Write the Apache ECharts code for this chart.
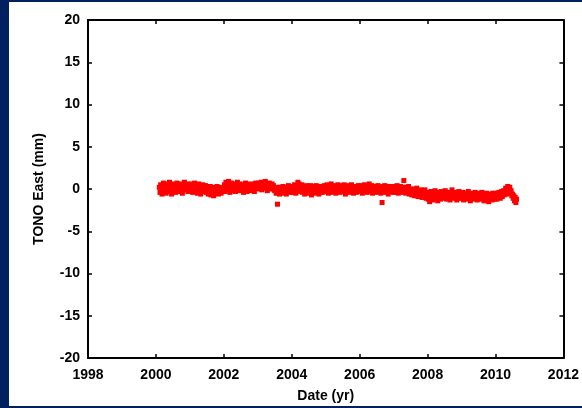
<!DOCTYPE html>
<html>
<head>
<meta charset="utf-8">
<script src="https://cdn.jsdelivr.net/npm/echarts@6/dist/echarts.min.js"></script>
<style>
  html, body { margin: 0; padding: 0; background: #002060; }
  #chart { width: 582px; height: 408px; }
</style>
</head>
<body>
<div id="chart"></div>
<script>
// TONO GPS station, east component time series (decimal year, mm)
const years = [
  2000.10, 2000.12, 2000.14, 2000.16, 2000.18, 2000.20, 2000.22, 2000.24, 2000.26, 2000.28, 2000.30, 2000.32, 2000.34, 2000.36, 2000.38,
  2000.40, 2000.42, 2000.44, 2000.46, 2000.48, 2000.50, 2000.52, 2000.54, 2000.56, 2000.58, 2000.60, 2000.62, 2000.64, 2000.66, 2000.68,
  2000.70, 2000.72, 2000.74, 2000.76, 2000.78, 2000.80, 2000.82, 2000.84, 2000.86, 2000.88, 2000.90, 2000.92, 2000.94, 2000.96, 2000.98,
  2001.00, 2001.02, 2001.04, 2001.06, 2001.08, 2001.10, 2001.12, 2001.14, 2001.16, 2001.18, 2001.20, 2001.22, 2001.24, 2001.26, 2001.28,
  2001.30, 2001.32, 2001.34, 2001.36, 2001.38, 2001.40, 2001.42, 2001.44, 2001.46, 2001.48, 2001.50, 2001.52, 2001.54, 2001.56, 2001.58,
  2001.60, 2001.62, 2001.64, 2001.66, 2001.68, 2001.70, 2001.72, 2001.74, 2001.76, 2001.78, 2001.80, 2001.82, 2001.84, 2001.86, 2001.88,
  2001.90, 2001.92, 2001.94, 2001.96, 2001.98,
  2002.00, 2002.02, 2002.04, 2002.06, 2002.08, 2002.10, 2002.12, 2002.14, 2002.16, 2002.18, 2002.20, 2002.22, 2002.24, 2002.26, 2002.28,
  2002.30, 2002.32, 2002.34, 2002.36, 2002.38, 2002.40, 2002.42, 2002.44, 2002.46, 2002.48, 2002.50, 2002.52, 2002.54, 2002.56, 2002.58,
  2002.60, 2002.62, 2002.64, 2002.66, 2002.68, 2002.70, 2002.72, 2002.74, 2002.76, 2002.78, 2002.80, 2002.82, 2002.84, 2002.86, 2002.88,
  2002.90, 2002.92, 2002.94, 2002.96, 2002.98,
  2003.00, 2003.02, 2003.04, 2003.06, 2003.08, 2003.10, 2003.12, 2003.14, 2003.16, 2003.18, 2003.20, 2003.22, 2003.24, 2003.26, 2003.28,
  2003.30, 2003.32, 2003.34, 2003.36, 2003.38, 2003.40, 2003.42, 2003.44, 2003.46, 2003.48, 2003.50, 2003.52, 2003.54, 2003.56, 2003.58,
  2003.60, 2003.62, 2003.64, 2003.66, 2003.68, 2003.70, 2003.72, 2003.74, 2003.76, 2003.78, 2003.80, 2003.82, 2003.84, 2003.86, 2003.88,
  2003.90, 2003.92, 2003.94, 2003.96, 2003.98,
  2004.00, 2004.02, 2004.04, 2004.06, 2004.08, 2004.10, 2004.12, 2004.14, 2004.16, 2004.18, 2004.20, 2004.22, 2004.24, 2004.26, 2004.28,
  2004.30, 2004.32, 2004.34, 2004.36, 2004.38, 2004.40, 2004.42, 2004.44, 2004.46, 2004.48, 2004.50, 2004.52, 2004.54, 2004.56, 2004.58,
  2004.60, 2004.62, 2004.64, 2004.66, 2004.68, 2004.70, 2004.72, 2004.74, 2004.76, 2004.78, 2004.80, 2004.82, 2004.84, 2004.86, 2004.88,
  2004.90, 2004.92, 2004.94, 2004.96, 2004.98,
  2005.00, 2005.02, 2005.04, 2005.06, 2005.08, 2005.10, 2005.12, 2005.14, 2005.16, 2005.18, 2005.20, 2005.22, 2005.24, 2005.26, 2005.28,
  2005.30, 2005.32, 2005.34, 2005.36, 2005.38, 2005.40, 2005.42, 2005.44, 2005.46, 2005.48, 2005.50, 2005.52, 2005.54, 2005.56, 2005.58,
  2005.60, 2005.62, 2005.64, 2005.66, 2005.68, 2005.70, 2005.72, 2005.74, 2005.76, 2005.78, 2005.80, 2005.82, 2005.84, 2005.86, 2005.88,
  2005.90, 2005.92, 2005.94, 2005.96, 2005.98,
  2006.00, 2006.02, 2006.04, 2006.06, 2006.08, 2006.10, 2006.12, 2006.14, 2006.16, 2006.18, 2006.20, 2006.22, 2006.24, 2006.26, 2006.28,
  2006.30, 2006.32, 2006.34, 2006.36, 2006.38, 2006.40, 2006.42, 2006.44, 2006.46, 2006.48, 2006.50, 2006.52, 2006.54, 2006.56, 2006.58,
  2006.60, 2006.62, 2006.64, 2006.66, 2006.68, 2006.70, 2006.72, 2006.74, 2006.76, 2006.78, 2006.80, 2006.82, 2006.84, 2006.86, 2006.88,
  2006.90, 2006.92, 2006.94, 2006.96, 2006.98,
  2007.00, 2007.02, 2007.04, 2007.06, 2007.08, 2007.10, 2007.12, 2007.14, 2007.16, 2007.18, 2007.20, 2007.22, 2007.24, 2007.26, 2007.28,
  2007.30, 2007.32, 2007.34, 2007.36, 2007.38, 2007.40, 2007.42, 2007.44, 2007.46, 2007.48, 2007.50, 2007.52, 2007.54, 2007.56, 2007.58,
  2007.60, 2007.62, 2007.64, 2007.66, 2007.68, 2007.70, 2007.72, 2007.74, 2007.76, 2007.78, 2007.80, 2007.82, 2007.84, 2007.86, 2007.88,
  2007.90, 2007.92, 2007.94, 2007.96, 2007.98,
  2008.00, 2008.02, 2008.04, 2008.06, 2008.08, 2008.10, 2008.12, 2008.14, 2008.16, 2008.18, 2008.20, 2008.22, 2008.24, 2008.26, 2008.28,
  2008.30, 2008.32, 2008.34, 2008.36, 2008.38, 2008.40, 2008.42, 2008.44, 2008.46, 2008.48, 2008.50, 2008.52, 2008.54, 2008.56, 2008.58,
  2008.60, 2008.62, 2008.64, 2008.66, 2008.68, 2008.70, 2008.72, 2008.74, 2008.76, 2008.78, 2008.80, 2008.82, 2008.84, 2008.86, 2008.88,
  2008.90, 2008.92, 2008.94, 2008.96, 2008.98,
  2009.00, 2009.02, 2009.04, 2009.06, 2009.08, 2009.10, 2009.12, 2009.14, 2009.16, 2009.18, 2009.20, 2009.22, 2009.24, 2009.26, 2009.28,
  2009.30, 2009.32, 2009.34, 2009.36, 2009.38, 2009.40, 2009.42, 2009.44, 2009.46, 2009.48, 2009.50, 2009.52, 2009.54, 2009.56, 2009.58,
  2009.60, 2009.62, 2009.64, 2009.66, 2009.68, 2009.70, 2009.72, 2009.74, 2009.76, 2009.78, 2009.80, 2009.82, 2009.84, 2009.86, 2009.88,
  2009.90, 2009.92, 2009.94, 2009.96, 2009.98,
  2010.00, 2010.02, 2010.04, 2010.06, 2010.08, 2010.10, 2010.12, 2010.14, 2010.16, 2010.18, 2010.20, 2010.22, 2010.24, 2010.26, 2010.28,
  2010.30, 2010.32, 2010.34, 2010.36, 2010.38, 2010.40, 2010.42, 2010.44, 2010.46, 2010.48, 2010.50, 2010.52, 2010.54, 2010.56, 2010.58,
  2010.60, 2010.62
];

const east = [
  // 2000
  0.2, -0.4, 0.5, 0.0, -0.6, 0.3, 0.7, -0.2, 0.1, 0.4, -0.5, 0.6, 0.0, -0.3, 0.3,
  0.8, -0.1, 0.2, -0.6, 0.5, 0.1, -0.2, 0.6, 0.3, -0.4, 0.0, 0.7, 0.2, -0.3, 0.4,
  0.1, 0.6, -0.2, 0.3, -0.5, 0.5, 0.2, 0.8, -0.1, 0.4, 0.0, 0.6, -0.3, 0.2, 0.5,
  // 2001
  0.3, -0.2, 0.6, 0.1, -0.4, 0.5, 0.0, 0.7, -0.3, 0.2, 0.4, -0.5, 0.1, 0.6, -0.1,
  0.3, -0.6, 0.2, 0.0, 0.5, -0.3, 0.1, -0.1, 0.4, -0.4, -0.2, 0.2, -0.6, 0.0, -0.4,
  0.3, -0.7, -0.1, -0.3, 0.2, -0.8, -0.2, 0.1, -0.5, -0.1, 0.3, -0.4, -0.6, 0.0, -0.2,
  0.2, -0.5, -0.1, -0.3, 0.1,
  // 2002
  0.0, 0.5, -0.3, 0.8, 0.2, 0.6, -0.1, 0.9, 0.3, -0.4, 0.4, 0.7, 0.0, 0.5, -0.2,
  0.3, 0.6, -0.3, 0.1, 0.4, 0.8, 0.0, 0.3, -0.2, 0.6, 0.2, -0.1, 0.5, 0.1, -0.4,
  0.4, 0.0, 0.7, 0.2, -0.3, 0.3, 0.6, -0.1, 0.1, 0.5, -0.2, 0.4, 0.0, 0.6, 0.2,
  -0.3, 0.3, 0.7, 0.1, 0.4,
  // 2003
  0.3, 0.7, 0.0, 0.5, 0.2, 0.8, -0.1, 0.4, 0.6, 0.1, 0.5, 0.9, 0.2, 0.4, -0.2,
  0.6, 0.3, 0.7, 0.0, 0.5, 0.2, 0.6, 0.1, 0.4, -0.1, -0.2, 0.1, -0.5, 0.2, -1.8,
  -0.3, 0.0, -0.6, 0.2, -0.2, 0.1, -0.5, 0.3, -0.1, -0.4, 0.2, 0.0, -0.6, 0.1, -0.3,
  0.4, -0.2, 0.0, -0.4, 0.2,
  // 2004
  0.1, -0.4, 0.3, -0.2, 0.5, 0.0, -0.5, 0.4, 0.2, 0.8, -0.1, 0.6, 0.3, -0.3, 0.1,
  0.5, -0.4, 0.0, 0.3, -0.6, 0.2, -0.1, 0.4, -0.3, 0.0, -0.5, 0.2, -0.2, 0.4, -0.7,
  0.0, -0.3, 0.3, -0.1, -0.5, 0.1, 0.4, -0.4, -0.1, 0.2, -0.6, 0.0, 0.3, -0.2, 0.1,
  -0.4, 0.2, -0.3, 0.4, 0.0,
  // 2005
  0.2, -0.3, 0.5, 0.0, -0.5, 0.3, 0.1, -0.2, 0.6, 0.0, -0.4, 0.3, -0.1, 0.4, 0.1,
  -0.5, 0.2, -0.2, 0.5, -0.1, 0.3, -0.4, 0.0, 0.4, -0.2, 0.1, -0.3, 0.5, 0.0, -0.6,
  0.2, -0.1, 0.4, -0.3, 0.1, 0.3, -0.4, 0.0, 0.5, -0.2, 0.2, -0.5, 0.1, 0.3, -0.1,
  -0.4, 0.2, 0.0, 0.4, -0.3,
  // 2006
  0.1, -0.3, 0.4, 0.0, -0.5, 0.3, -0.1, 0.5, 0.1, -0.2, 0.3, -0.4, 0.2, 0.0, 0.6,
  -0.3, 0.1, -0.1, 0.4, -0.5, 0.2, 0.0, -0.2, 0.3, -0.4, 0.1, -0.1, 0.4, -0.3, 0.0,
  0.2, -0.5, 0.1, -1.6, 0.3, -0.2, 0.0, 0.4, -0.4, 0.1, -0.1, 0.3, -0.6, 0.0, 0.2,
  -0.3, 0.1, -0.2, 0.3, -0.4,
  // 2007
  -0.1, 0.3, -0.4, 0.1, -0.2, 0.4, 0.0, -0.5, 0.2, -0.1, 0.3, -0.3, 0.0, 0.2, -0.4,
  1.0, -0.2, 0.1, -0.5, 0.2, -0.1, -0.3, 0.3, -0.6, 0.0, -0.4, -0.1, -0.7, -0.2, -0.5,
  0.0, -0.8, -0.3, -0.6, 0.1, -0.4, -0.9, -0.2, -0.5, -0.7, -0.1, -0.6, -1.0, -0.3, -0.8,
  -0.4, -0.1, -0.7, -1.1, -0.5,
  // 2008
  -0.6, -1.2, -0.4, -1.5, -0.8, -0.3, -1.0, -0.7, -1.3, -0.5, -0.9, -0.2, -1.1, -0.6, -0.8,
  -1.4, -0.4, -0.9, -0.7, -1.2, -0.3, -0.8, -1.0, -0.5, -1.1, -0.7, -0.2, -0.9, -1.2, -0.6,
  -0.4, -1.0, -0.8, -1.3, -0.5, -0.7, -0.1, -0.9, -1.1, -0.6, -0.4, -1.0, -0.7, -1.3, -0.5,
  -0.8, -0.3, -1.1, -0.6, -0.9,
  // 2009
  -0.7, -1.1, -0.4, -1.3, -0.8, -0.5, -1.0, -0.6, -1.2, -0.9, -0.3, -1.0, -0.7, -1.4, -0.5,
  -0.9, -1.1, -0.6, -0.8, -1.2, -0.4, -1.0, -0.7, -1.3, -0.6, -0.9, -0.5, -1.2, -0.8, -1.0,
  -0.4, -1.1, -0.7, -1.4, -0.6, -0.9, -1.2, -0.5, -1.0, -0.8, -1.5, -0.6, -1.1, -0.7, -0.9,
  -1.3, -0.5, -1.0, -0.8, -1.2,
  // 2010
  -0.9, -0.5, -1.2, -0.7, -1.0, -0.4, -0.8, -1.1, -0.6, -0.3, -0.9, -0.5, -0.2, -0.7, -0.4,
  0.1, -0.3, -0.6, 0.3, -0.1, -0.4, 0.2, -0.5, -0.2, -0.8, -0.6, -1.1, -0.8, -1.4, -1.0,
  -1.6, -1.2
];

const xTicks = { min: 1998, max: 2012, interval: 2 };
const yTicks = { min: -20, max: 20, interval: 5 };

const font = 'Liberation Sans, Arial, Helvetica, sans-serif';
const points = years.map((t, i) => [t, east[i]]);

const axisLine = { show: true, onZero: false, lineStyle: { color: '#000', width: 2 } };
const tickIn = { show: true, inside: true, length: 4, lineStyle: { color: '#000', width: 1.5 } };
const labelStyle = { color: '#000', fontFamily: font, fontWeight: 'bold', fontSize: 14 };
const plain = v => String(v);

const chart = echarts.init(document.getElementById('chart'), null, { renderer: 'canvas' });
chart.setOption({
  backgroundColor: '#002060',
  animation: false,
  graphic: [{
    type: 'rect', left: 9, top: 2, z: -10,
    shape: { width: 573, height: 404 },
    style: { fill: '#fff' }
  }],
  grid: { left: 88, right: 17, top: 20, bottom: 47, containLabel: false },
  xAxis: [{
    type: 'value', position: 'bottom',
    min: xTicks.min, max: xTicks.max, interval: xTicks.interval,
    name: 'Date (yr)', nameLocation: 'middle', nameGap: 31,
    nameTextStyle: labelStyle,
    axisLine, axisTick: tickIn,
    axisLabel: Object.assign({ margin: 10, formatter: plain }, labelStyle),
    splitLine: { show: false }
  }, {
    type: 'value', position: 'top',
    min: xTicks.min, max: xTicks.max, interval: xTicks.interval,
    axisLine, axisTick: tickIn,
    axisLabel: { show: false }, splitLine: { show: false }
  }],
  yAxis: [{
    type: 'value', position: 'left',
    min: yTicks.min, max: yTicks.max, interval: yTicks.interval,
    name: 'TONO East (mm)', nameLocation: 'middle', nameGap: 42, nameRotate: 90,
    nameTextStyle: labelStyle,
    axisLine, axisTick: tickIn,
    axisLabel: Object.assign({ margin: 8, formatter: plain }, labelStyle),
    splitLine: { show: false }
  }, {
    type: 'value', position: 'right',
    min: yTicks.min, max: yTicks.max, interval: yTicks.interval,
    axisLine, axisTick: tickIn,
    axisLabel: { show: false }, splitLine: { show: false }
  }],
  series: [{
    type: 'scatter',
    xAxisIndex: 0, yAxisIndex: 0,
    symbol: 'rect', symbolSize: 5,
    itemStyle: { color: '#ff0000', opacity: 1 },
    data: points
  }]
});
</script>
</body>
</html>
